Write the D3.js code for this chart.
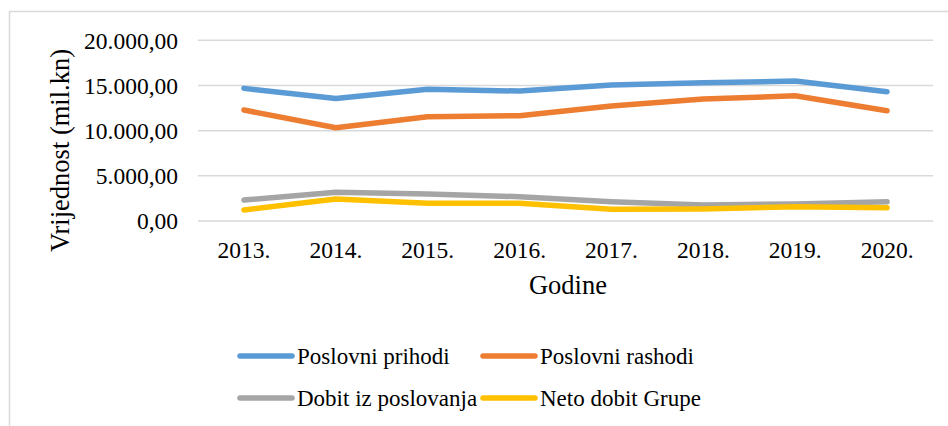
<!DOCTYPE html>
<html>
<head>
<meta charset="utf-8">
<script src="https://cdn.jsdelivr.net/npm/d3@7"></script>
<style>
  html, body { margin: 0; padding: 0; background: #fff; }
  svg { display: block; }
  svg text { font-family: "Liberation Serif", "Times New Roman", serif !important; }
</style>
</head>
<body>
<svg id="chart" width="948" height="426"></svg>
<script>
const years = ["2013.", "2014.", "2015.", "2016.", "2017.", "2018.", "2019.", "2020."];
const poslovniPrihodi = [14680, 13570, 14570, 14380, 15040, 15300, 15490, 14300];
const poslovniRashodi = [12280, 10320, 11540, 11650, 12720, 13500, 13860, 12200];
const dobitIzPoslovanja = [2320, 3170, 2990, 2690, 2140, 1770, 1880, 2140];
const netoDobitGrupe = [1220, 2430, 1960, 1960, 1290, 1330, 1580, 1470];
const yTicks = [0, 5000, 10000, 15000, 20000];
const seriesNames = ["Poslovni prihodi", "Poslovni rashodi", "Dobit iz poslovanja", "Neto dobit Grupe"];
const seriesColors = ["#5B9BD5", "#ED7D31", "#A5A5A5", "#FFC000"];

const series = [poslovniPrihodi, poslovniRashodi, dobitIzPoslovanja, netoDobitGrupe]
  .map((vals, i) => ({ name: seriesNames[i], color: seriesColors[i], values: vals }));

const svg = d3.select("#chart");
const W = 948, H = 426;
const SERIF = "'Liberation Serif', 'Times New Roman', serif";

// outer chart border
svg.append("rect")
  .attr("x", 9.5).attr("y", 11.5)
  .attr("width", W).attr("height", H)
  .attr("fill", "none").attr("stroke", "#d9d9d9").attr("stroke-width", 1.5);

const plot = { left: 198, right: 933, top: 40.3, bottom: 221 };

const x = d3.scaleBand().domain(years).range([plot.left, plot.right]);
const y = d3.scaleLinear().domain([0, 20000]).range([plot.bottom, plot.top]);

const locale = d3.formatLocale({ decimal: ",", thousands: ".", grouping: [3], currency: ["", ""] });
const fmt = locale.format(",.2f");

// gridlines
svg.append("g").selectAll("line").data(yTicks).join("line")
  .attr("x1", plot.left).attr("x2", plot.right)
  .attr("y1", d => y(d)).attr("y2", d => y(d))
  .attr("stroke", "#d9d9d9").attr("stroke-width", 1.5);

// y axis labels
const yAxis = d3.axisLeft(y).tickValues(yTicks).tickFormat(fmt).tickSize(0).tickPadding(20);
const gy = svg.append("g").attr("transform", `translate(${plot.left},0)`).call(yAxis)
  .attr("font-family", null).style("font-family", SERIF);
gy.select(".domain").remove();
gy.selectAll("text").attr("font-size", 23.5).attr("fill", "#000")
  .style("font-family", SERIF).attr("dy", "0.33em");

// x axis labels
const xAxis = d3.axisBottom(x).tickSize(0).tickPadding(0);
const gx = svg.append("g").attr("transform", `translate(0,${plot.bottom})`).call(xAxis)
  .attr("font-family", null).style("font-family", SERIF);
gx.select(".domain").remove();
gx.selectAll("text").attr("font-size", 23.5).attr("fill", "#000")
  .style("font-family", SERIF).attr("dy", null).attr("y", 37);

// axis titles
svg.append("text").attr("x", 568).attr("y", 294).attr("text-anchor", "middle")
  .attr("font-size", 26.5).style("font-family", SERIF).text("Godine");
svg.append("text").attr("transform", "translate(69,150.5) rotate(-90)")
  .attr("text-anchor", "middle").attr("font-size", 26.5).style("font-family", SERIF)
  .text("Vrijednost (mil.kn)");

// lines
const line = d3.line()
  .x((d, i) => x(years[i]) + x.bandwidth() / 2)
  .y(d => y(d));

svg.append("g").selectAll("path").data(series).join("path")
  .attr("d", d => line(d.values))
  .attr("fill", "none")
  .attr("stroke", d => d.color)
  .attr("stroke-width", 5.5)
  .attr("stroke-linecap", "round")
  .attr("stroke-linejoin", "round");

// legend
const legendPos = [
  { lx: 240, ly: 356 }, { lx: 483, ly: 356 },
  { lx: 240, ly: 398 }, { lx: 483, ly: 398 }
];
const lg = svg.append("g").selectAll("g").data(series).join("g")
  .attr("transform", (d, i) => `translate(${legendPos[i].lx},${legendPos[i].ly})`);
lg.append("line").attr("x1", 0).attr("x2", 52).attr("y1", 0).attr("y2", 0)
  .attr("stroke", d => d.color).attr("stroke-width", 5.5).attr("stroke-linecap", "round");
lg.append("text").attr("x", 57).attr("y", 7.8).attr("font-size", 23).attr("fill", "#000")
  .style("font-family", SERIF).text(d => d.name);
</script>
</body>
</html>
